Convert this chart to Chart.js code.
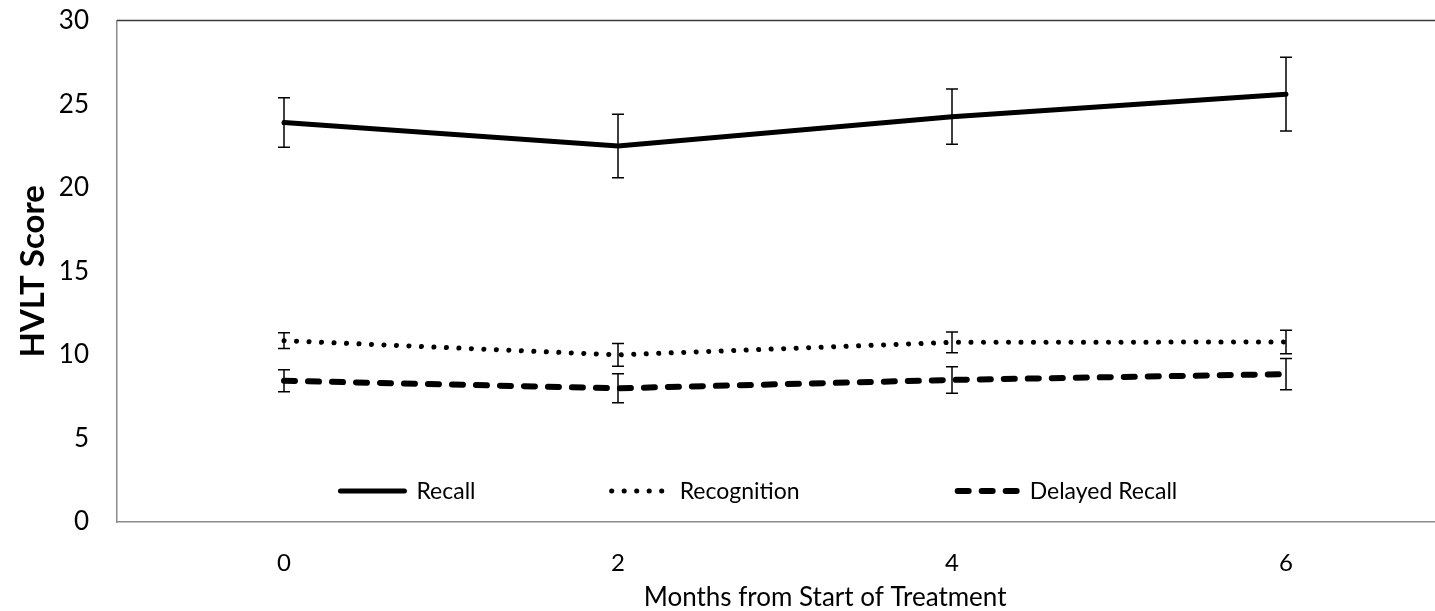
<!DOCTYPE html>
<html>
<head>
<meta charset="utf-8">
<script src="https://cdn.jsdelivr.net/npm/chart.js@4.4.1/dist/chart.umd.min.js"></script>
<style>
    html, body { margin: 0; padding: 0; background: #fff; overflow: hidden; }
    #wrap { position: relative; top: -23px; width: 1470px; height: 634px; }
</style>
</head>
<body>
<div id="wrap"><canvas id="hvltChart"></canvas></div>
<script>
// Data
const months = ['0', '2', '4', '6'];
const recall = [23.9, 22.5, 24.25, 25.6];
const recallErr = [1.48, 1.9, 1.65, 2.2];
const recognition = [10.85, 10.0, 10.75, 10.77];
const recognitionErr = [0.47, 0.68, 0.62, 0.7];
const delayedRecall = [8.45, 8.0, 8.5, 8.85];
const delayedRecallErr = [0.66, 0.87, 0.79, 0.94];
const yTicks = [0, 5, 10, 15, 20, 25, 30];

const FONT = 'Lato, "Open Sans", sans-serif';
const errors = [recallErr, recognitionErr, delayedRecallErr];

// error bars, top frame line, x title and the legend inside the plot
const extras = {
    id: 'extras',
    afterDatasetsDraw(chart) {
        const ctx = chart.ctx;
        const y = chart.scales.y;
        const area = chart.chartArea;
        const w = area.right - area.left;
        ctx.save();
        // frame top
        ctx.strokeStyle = '#3a3a3a';
        ctx.lineWidth = 1.5;
        ctx.beginPath();
        ctx.moveTo(area.left, area.top);
        ctx.lineTo(area.right, area.top);
        ctx.stroke();

        // error bars
        ctx.strokeStyle = '#000';
        ctx.lineWidth = 1.5;
        chart.data.datasets.forEach((ds, i) => {
            const meta = chart.getDatasetMeta(i);
            meta.data.forEach((pt, j) => {
                const v = ds.data[j];
                const e = errors[i][j];
                const top = y.getPixelForValue(v + e);
                const bot = y.getPixelForValue(v - e);
                ctx.beginPath();
                ctx.moveTo(pt.x, top);
                ctx.lineTo(pt.x, bot);
                ctx.moveTo(pt.x - 6, top);
                ctx.lineTo(pt.x + 6, top);
                ctx.moveTo(pt.x - 6, bot);
                ctx.lineTo(pt.x + 6, bot);
                ctx.stroke();
            });
        });

        // x axis title (sits a little right of the plot centre)
        ctx.fillStyle = '#000';
        ctx.textAlign = 'center';
        ctx.textBaseline = 'middle';
        ctx.font = '26px ' + FONT;
        ctx.fillText('Months from Start of Treatment', area.left + w * 0.53, area.bottom + 76);

        // legend
        const ly = area.bottom - 31;
        const items = [
            { x: area.left + w * 0.165, len: 70, ds: 0 },
            { x: area.left + w * 0.368, len: 62, ds: 1 },
            { x: area.left + w * 0.627, len: 66, ds: 2 }
        ];
        ctx.font = '23px ' + FONT;
        ctx.textAlign = 'left';
        items.forEach(it => {
            const ds = chart.data.datasets[it.ds];
            ctx.strokeStyle = '#000';
            ctx.lineWidth = ds.borderWidth;
            ctx.lineCap = 'round';
            ctx.setLineDash(ds.borderDash || []);
            ctx.beginPath();
            ctx.moveTo(it.x + 3, ly);
            ctx.lineTo(it.x + it.len - 3, ly);
            ctx.stroke();
            ctx.setLineDash([]);
            ctx.fillText(ds.label, it.x + it.len + 9, ly + 1);
        });
        ctx.restore();
    }
};

const chart = new Chart(document.getElementById('hvltChart'), {
    type: 'line',
    data: {
        labels: months,
        datasets: [{
            label: 'Recall',
            data: recall,
            borderColor: '#000',
            borderWidth: 5,
            borderCapStyle: 'round'
        }, {
            label: 'Recognition',
            data: recognition,
            borderColor: '#000',
            borderWidth: 5,
            borderCapStyle: 'round',
            borderDash: [0.1, 12.4]
        }, {
            label: 'Delayed Recall',
            data: delayedRecall,
            borderColor: '#000',
            borderWidth: 6,
            borderCapStyle: 'round',
            borderDash: [11, 13]
        }]
    },
    options: {
        responsive: true,
        maintainAspectRatio: false,
        animation: false,
        layout: {
            padding: { top: 0, right: 17, left: 0, bottom: 0 }
        },
        elements: {
            point: { radius: 0, hoverRadius: 0 },
            line: { tension: 0 }
        },
        plugins: {
            legend: { display: false },
            tooltip: { enabled: false }
        },
        scales: {
            x: {
                offset: true,
                grid: { display: false, drawTicks: false },
                border: { color: '#8c8c8c', width: 1.5 },
                ticks: {
                    color: '#000',
                    padding: 27,
                    font: { family: FONT, size: 24 }
                },
                afterFit(scale) { scale.height = 89; }
            },
            y: {
                min: 0,
                max: 30,
                afterBuildTicks(scale) {
                    scale.ticks = yTicks.map(v => ({ value: v }));
                },
                grid: { display: false, drawTicks: false },
                border: { color: '#8c8c8c', width: 1.5 },
                ticks: {
                    color: '#000',
                    padding: 28,
                    font: { family: FONT, size: 26 }
                },
                title: {
                    display: true,
                    text: 'HVLT Score',
                    color: '#000',
                    padding: { top: 14, bottom: 0 },
                    font: { family: FONT, size: 33, weight: 'bold' }
                },
                afterFit(scale) { scale.width = 117; }
            }
        }
    },
    plugins: [extras]
});
</script>
</body>
</html>
